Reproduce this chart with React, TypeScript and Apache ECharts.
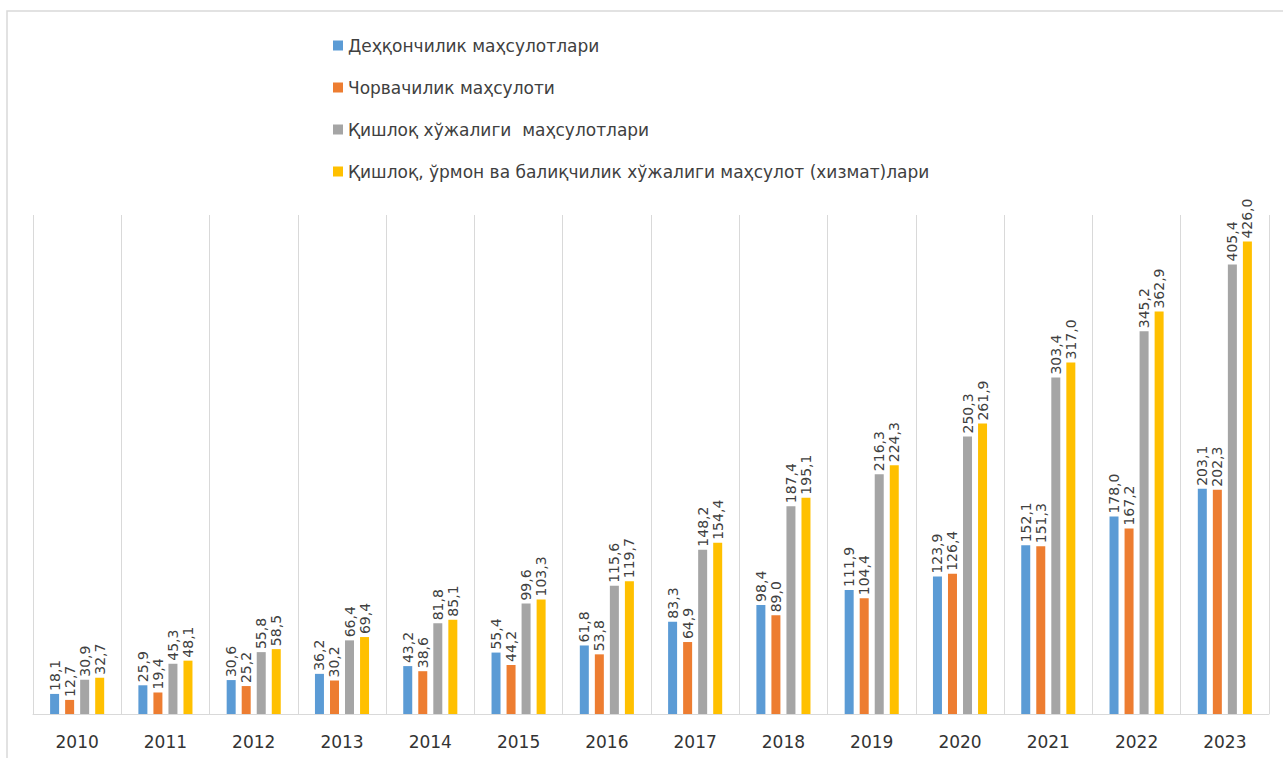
import React, { useEffect, useRef } from "react";
import * as echarts from "echarts";

const years = ["2010", "2011", "2012", "2013", "2014", "2015", "2016", "2017", "2018", "2019", "2020", "2021", "2022", "2023"];
const dehqon = [18.1, 25.9, 30.6, 36.2, 43.2, 55.4, 61.8, 83.3, 98.4, 111.9, 123.9, 152.1, 178.0, 203.1];
const chorva = [12.7, 19.4, 25.2, 30.2, 38.6, 44.2, 53.8, 64.9, 89.0, 104.4, 126.4, 151.3, 167.2, 202.3];
const qishloq = [30.9, 45.3, 55.8, 66.4, 81.8, 99.6, 115.6, 148.2, 187.4, 216.3, 250.3, 303.4, 345.2, 405.4];
const qishloqUrmon = [32.7, 48.1, 58.5, 69.4, 85.1, 103.3, 119.7, 154.4, 195.1, 224.3, 261.9, 317.0, 362.9, 426.0];

const seriesNames = [
  "Деҳқончилик маҳсулотлари",
  "Чорвачилик маҳсулоти",
  "Қишлоқ хўжалиги  маҳсулотлари",
  "Қишлоқ, ўрмон ва балиқчилик хўжалиги маҳсулот (хизмат)лари",
];
const colors = ["#5B9BD5", "#ED7D31", "#A5A5A5", "#FFC000"];

export default function App() {
  const ref = useRef<HTMLDivElement>(null);
  useEffect(() => {
    if (!ref.current) return;
    const chart = echarts.init(ref.current, null, { renderer: "svg" });
    const datasets = [dehqon, chorva, qishloq, qishloqUrmon];
    chart.setOption({
      animation: false,
      backgroundColor: "#ffffff",
      textStyle: { fontFamily: "DejaVu Sans" },
      graphic: [
        {
          type: "rect",
          shape: { x: 7, y: 11, width: 1300, height: 800 },
          style: { fill: "none", stroke: "#d9d9d9", lineWidth: 1.5 },
          silent: true,
        },
      ],
      legend: {
        orient: "vertical",
        left: 328,
        top: 32,
        itemWidth: 10,
        itemHeight: 10,
        itemGap: 25,
        icon: "rect",
        textStyle: { fontSize: 17, color: "#404040", fontFamily: "DejaVu Sans" },
        data: seriesNames,
      },
      grid: { left: 33, right: 14, top: 215, bottom: 44 },
      xAxis: {
        type: "category",
        data: years,
        axisLine: { show: true, lineStyle: { color: "#d9d9d9", width: 1 } },
        axisTick: { show: false },
        splitLine: { show: true, lineStyle: { color: "#d9d9d9", width: 1 } },
        axisLabel: { fontSize: 17, color: "#333333", margin: 19, fontFamily: "DejaVu Sans" },
      },
      yAxis: {
        type: "value",
        min: 0,
        max: 450,
        show: false,
        splitLine: { show: false },
      },
      series: datasets.map((d, i) => ({
        name: seriesNames[i],
        type: "bar",
        data: d,
        barWidth: 9,
        barGap: "67%",
        itemStyle: { color: colors[i] },
        label: {
          show: true,
          position: "top",
          rotate: 90,
          align: "left",
          verticalAlign: "middle",
          distance: 3,
          fontSize: 14,
          color: "#404040",
          fontFamily: "DejaVu Sans",
          formatter: (p: any) => Number(p.value).toFixed(1).replace(".", ","),
        },
      })),
    });
    return () => chart.dispose();
  }, []);
  return (
    <div
      ref={ref}
      style={{ position: "absolute", left: 0, top: 0, width: 1283, height: 758 }}
    />
  );
}
